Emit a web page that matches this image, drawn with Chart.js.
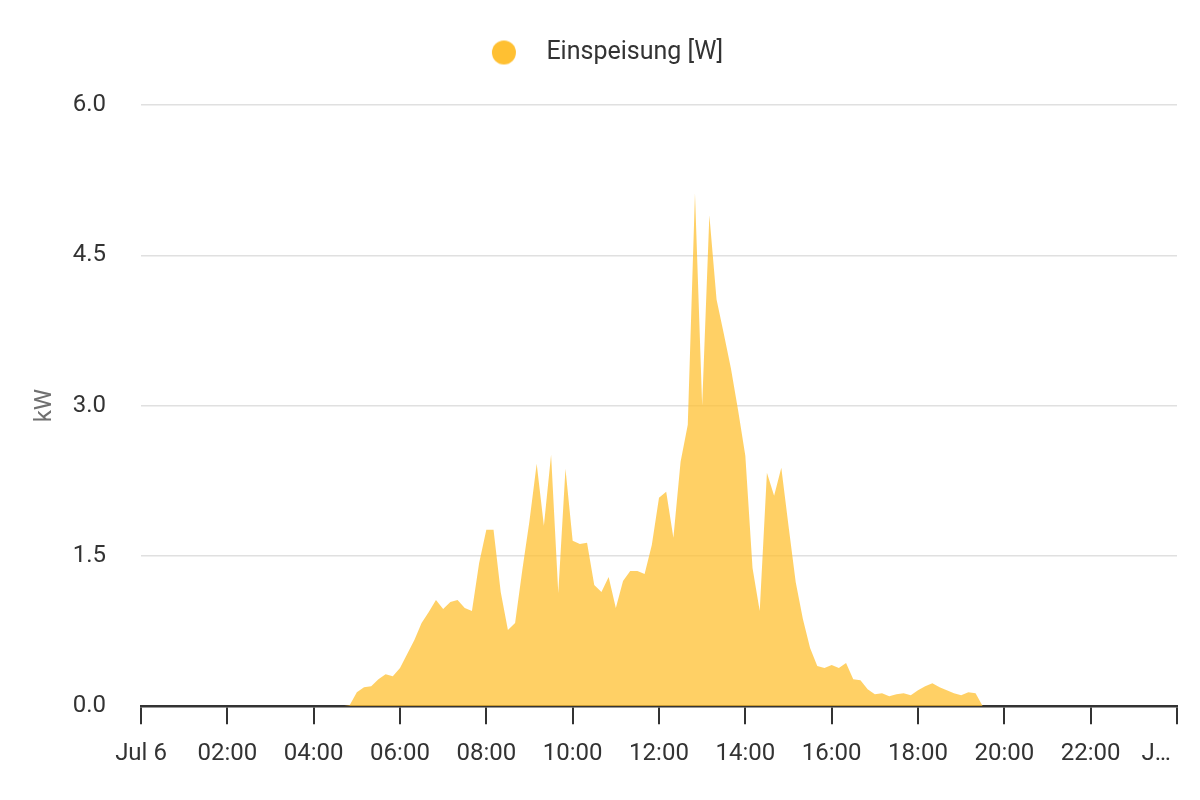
<!DOCTYPE html>
<html>
<head>
<meta charset="utf-8">
<script src="https://cdn.jsdelivr.net/npm/chart.js@4.4.1/dist/chart.umd.min.js"></script>
<style>
  body { margin: 0; background: #fff; }
</style>
</head>
<body>
<canvas id="energyChart" width="1200" height="800"></canvas>
<script>
const seriesLabel = "Einspeisung [W]";
const axisTitle = "kW";

// 10-minute samples, Jul 6
const times = [
  "04:30", "04:40", "04:50", "05:00", "05:10", "05:20", "05:30", "05:40", "05:50",
  "06:00", "06:10", "06:20", "06:30", "06:40", "06:50",
  "07:00", "07:10", "07:20", "07:30", "07:40", "07:50",
  "08:00", "08:10", "08:20", "08:30", "08:40", "08:50",
  "09:00", "09:10", "09:20", "09:30", "09:40", "09:50",
  "10:00", "10:10", "10:20", "10:30", "10:40", "10:50",
  "11:00", "11:10", "11:20", "11:30", "11:40", "11:50",
  "12:00", "12:10", "12:20", "12:30", "12:40", "12:50",
  "13:00", "13:10", "13:20", "13:30", "13:40", "13:50",
  "14:00", "14:10", "14:20", "14:30", "14:40", "14:50",
  "15:00", "15:10", "15:20", "15:30", "15:40", "15:50",
  "16:00", "16:10", "16:20", "16:30", "16:40", "16:50",
  "17:00", "17:10", "17:20", "17:30", "17:40", "17:50",
  "18:00", "18:10", "18:20", "18:30", "18:40", "18:50",
  "19:00", "19:10", "19:20", "19:30", "19:40"
];

const feedIn = [
  0, 0, 0.01, 0.14, 0.19, 0.20, 0.27, 0.32, 0.30,
  0.38, 0.52, 0.66, 0.83, 0.94, 1.06,
  0.97, 1.04, 1.06, 0.98, 0.95, 1.43,
  1.76, 1.76, 1.14, 0.76, 0.83, 1.36,
  1.85, 2.42, 1.80, 2.51, 1.13, 2.37,
  1.65, 1.62, 1.63, 1.21, 1.14, 1.29,
  0.98, 1.25, 1.35, 1.35, 1.32, 1.61,
  2.08, 2.14, 1.68, 2.44, 2.81, 5.12,
  3.00, 4.90, 4.06, 3.72, 3.37, 2.95,
  2.50, 1.38, 0.95, 2.33, 2.10, 2.38,
  1.80, 1.24, 0.87, 0.58, 0.40, 0.38,
  0.41, 0.38, 0.43, 0.27, 0.26, 0.17,
  0.12, 0.13, 0.10, 0.12, 0.13, 0.11,
  0.16, 0.20, 0.23, 0.19, 0.16, 0.13,
  0.11, 0.14, 0.13, 0, 0
];

const yTicks = [0, 1.5, 3.0, 4.5, 6.0];
const dayStartLabel = "Jul 6";
// truncated end-of-day label, padded so it sits left of its tick
const dayEndLabel = "J…" + "\u00a0".repeat(7);

function toMinutes(t) {
  const [h, m] = t.split(":").map(Number);
  return h * 60 + m;
}

const points = times.map((t, i) => ({ x: toMinutes(t), y: feedIn[i] }));

// round legend marker
const marker = document.createElement("canvas");
marker.width = 26;
marker.height = 26;
const mctx = marker.getContext("2d");
mctx.fillStyle = "rgb(255,192,50)";
mctx.beginPath();
mctx.arc(13, 13, 12, 0, Math.PI * 2);
mctx.fill();

const legendSpacing = {
  id: "legendSpacing",
  beforeInit(chart) {
    const fit = chart.legend.fit;
    chart.legend.fit = function () {
      fit.bind(chart.legend)();
      this.height += 30;
    };
  },
};

new Chart(document.getElementById("energyChart"), {
  type: "line",
  data: {
    datasets: [
      {
        label: seriesLabel,
        data: points,
        fill: "origin",
        backgroundColor: "rgba(255,192,50,0.75)",
        borderWidth: 0,
        borderColor: "rgba(255,192,50,0.75)",
        pointRadius: 0,
        tension: 0,
      },
    ],
  },
  options: {
    responsive: false,
    animation: false,
    layout: { padding: { top: 30, left: 20, right: 23, bottom: 17 } },
    plugins: {
      legend: {
        labels: {
          usePointStyle: true,
          pointStyle: marker,
          pointStyleWidth: 60,
          color: "#333",
          font: { family: "Roboto", size: 25 },
          padding: 10,
        },
      },
      tooltip: { enabled: false },
    },
    scales: {
      x: {
        type: "linear",
        min: 0,
        max: 1440,
        afterBuildTicks(scale) {
          const ticks = [];
          for (let v = 0; v <= 1440; v += 120) ticks.push({ value: v });
          scale.ticks = ticks;
        },
        afterFit(scale) {
          scale.paddingLeft = 0;
          scale.paddingRight = 0;
        },
        ticks: {
          autoSkip: false,
          maxRotation: 0,
          padding: 15,
          color: "#333",
          font: { family: "Roboto", size: 24 },
          callback(value) {
            if (value === 0) return dayStartLabel;
            if (value === 1440) return dayEndLabel;
            return String(value / 60).padStart(2, "0") + ":00";
          },
        },
        grid: {
          drawOnChartArea: false,
          drawTicks: true,
          tickLength: 18,
          color: "#333",
          lineWidth: 2,
        },
        border: { color: "#333", width: 2.5 },
      },
      y: {
        min: 0,
        max: 6,
        afterBuildTicks(scale) {
          scale.ticks = yTicks.map((v) => ({ value: v }));
        },
        afterFit(scale) {
          scale.width = 121;
        },
        title: {
          display: true,
          text: axisTitle,
          color: "#707070",
          font: { family: "Roboto", size: 24 },
          padding: { top: 11, bottom: 4 },
        },
        ticks: {
          padding: 35,
          color: "#333",
          font: { family: "Roboto", size: 24 },
          callback(value) {
            return Number(value).toFixed(1);
          },
        },
        grid: {
          drawTicks: false,
          color: "#e0e0e0",
          lineWidth: 1.5,
        },
        border: { display: false },
      },
    },
  },
  plugins: [legendSpacing],
});
</script>
</body>
</html>
